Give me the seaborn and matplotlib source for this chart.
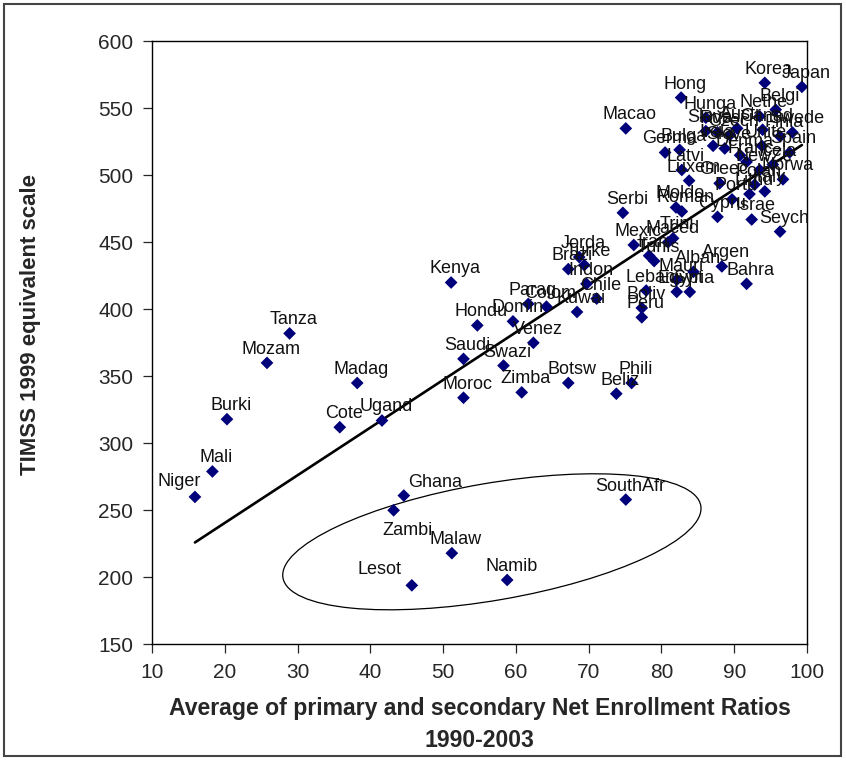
"""
plot
---------------------------------------------------------------------
TIMSS 1999 equivalent scores against average net enrollment ratios
"""
import matplotlib
matplotlib.use("Agg")
import matplotlib.pyplot as plt
import matplotlib.transforms as mtransforms
from matplotlib.patches import Ellipse, Rectangle
import pandas as pd
import seaborn as sns


COUNTRIES = ["Niger", "Mali", "Burki", "Mozam", "Tanza", "Madag", "Cote", "Ugand",
             "Ghana", "Zambi", "Malaw", "Lesot", "Namib", "SouthAfr",
             "Kenya", "Saudi", "Moroc", "Hondu", "Domin", "Swazi", "Zimba", "Venez",
             "Parag", "Colom", "Kuwai", "Chile", "Indon", "Brazi", "Turke", "Jorda",
             "Botsw", "Beliz", "Phili", "Mexic", "Iran", "Tunis", "Trini", "Maced",
             "Alban", "Argen", "Bahra", "Mauri", "Egypt", "Syria", "Leban", "Boliv",
             "Peru", "Serbi", "Macao", "Hong", "Korea", "Japan", "Belgi", "Hunga",
             "Nethe", "Slova", "Russi", "Czech", "Austr", "Canad", "Finla", "Swede",
             "Unite", "Irela", "Germa", "Bulga", "Latvi", "Luxem", "Greec", "Slove",
             "Franc", "Denma", "Spain", "Icela", "NewZe", "Norwa", "Portu", "Italy",
             "Lithu", "Polan", "Roman", "Moldo", "Cypru", "Israe", "Seych"]

ENROLLMENT = [15.9, 18.3, 20.3, 25.8, 28.9, 38.2, 35.8, 41.6,
              44.6, 43.2, 51.2, 45.7, 58.8, 75.1,
              51.1, 52.8, 52.8, 54.7, 59.6, 58.3, 60.8, 62.4,
              61.7, 64.2, 68.4, 71.1, 69.7, 67.2, 69.4, 68.7,
              67.2, 73.8, 75.9, 76.2, 78.3, 79.0, 81.6, 80.9,
              84.4, 88.3, 91.7, 82.1, 82.1, 83.9, 77.9, 77.3,
              77.3, 74.7, 75.1, 82.7, 94.2, 99.3, 95.7, 86.1,
              93.5, 86.1, 87.7, 89.4, 90.4, 93.9, 96.3, 98.0,
              93.8, 87.1, 80.5, 82.5, 82.8, 83.8, 88.0, 88.7,
              91.7, 90.8, 97.6, 95.3, 93.5, 96.7, 89.7, 94.2,
              92.1, 92.8, 82.8, 82.0, 87.7, 92.4, 96.3]

TIMSS = [260, 279, 318, 360, 382, 345, 312, 317,
         261, 250, 218, 194, 198, 258,
         420, 363, 334, 388, 391, 358, 338, 375,
         404, 402, 398, 408, 419, 430, 433, 439,
         345, 337, 345, 448, 440, 436, 453, 450,
         428, 432, 419, 422, 413, 413, 414, 401,
         394, 472, 535, 558, 569, 566, 549, 543,
         544, 533, 532, 530, 535, 534, 529, 532,
         522, 522, 517, 519, 504, 496, 494, 520,
         510, 515, 517, 508, 504, 497, 482, 488,
         486, 493, 473, 476, 469, 467, 458]

# fitted trend line end points
TREND_X = [15.9, 99.3]
TREND_Y = [226, 522.6]

# circled group of low performers (centre in data units)
GROUP_CENTER = (56.7, 226.5)

# labels that were dragged away from the default spot (offset points)
LABEL_OFFSETS = {"Niger": (-11.5, 8), "Ghana": (22.5, 6.5),
                 "Zambi": (10, -18), "Lesot": (-23.5, 8)}


def main():
    sns.set_style("ticks")
    plt.rcParams["font.family"] = ["Liberation Sans", "DejaVu Sans"]

    df = pd.DataFrame({"country": COUNTRIES, "enroll": ENROLLMENT, "score": TIMSS})
    trend = pd.DataFrame({"enroll": TREND_X, "score": TREND_Y})

    fig = plt.figure(figsize=(8.46, 7.6), dpi=100)
    ax = fig.add_axes([152 / 846, 1 - 644.3 / 760, 655 / 846, 603 / 760])

    sns.lineplot(data=trend, x="enroll", y="score", color="black", linewidth=1.9, ax=ax)
    sns.scatterplot(data=df, x="enroll", y="score", marker="D", s=42,
                    color="#00007a", edgecolor="none", ax=ax, zorder=3)

    for _, row in df.iterrows():
        off = LABEL_OFFSETS.get(row["country"], (3, 6.5))
        ax.annotate(row["country"], (row["enroll"], row["score"]), xytext=off,
                    textcoords="offset points", ha="center", va="baseline",
                    fontsize=13, color="#111111")

    # ellipse drawn in inches, anchored at a data point
    tr = fig.dpi_scale_trans + mtransforms.ScaledTranslation(
        GROUP_CENTER[0], GROUP_CENTER[1], ax.transData)
    ax.add_patch(Ellipse((0, 0), 4.24, 1.17, angle=9.8, transform=tr,
                         fill=False, edgecolor="black", linewidth=0.9))

    ax.set_xlim(10, 100)
    ax.set_ylim(150, 600)
    ax.set_xticks(range(10, 101, 10))
    ax.set_yticks(range(150, 601, 50))
    ax.tick_params(labelsize=15, length=6.5, width=0.9, direction="out", pad=7)
    for side in ax.spines.values():
        side.set_linewidth(1.0)
        side.set_color("black")

    ax.set_xlabel("Average of primary and secondary Net Enrollment Ratios\n1990-2003",
                  fontsize=16.6, fontweight="bold", linespacing=1.5)
    ax.set_ylabel("TIMSS 1999 equivalent scale", fontsize=16, fontweight="bold")
    ax.xaxis.set_label_coords(0.5, -0.088)
    ax.yaxis.set_label_coords(-0.17, 0.53)

    fig.patches.append(Rectangle((4 / 846, 4 / 760), 837 / 846, 752 / 760,
                                 transform=fig.transFigure, fill=False,
                                 edgecolor="#444444", linewidth=1.5))

    fig.savefig("out.png", dpi=100)
    plt.close(fig)


if __name__ == "__main__":
    main()
